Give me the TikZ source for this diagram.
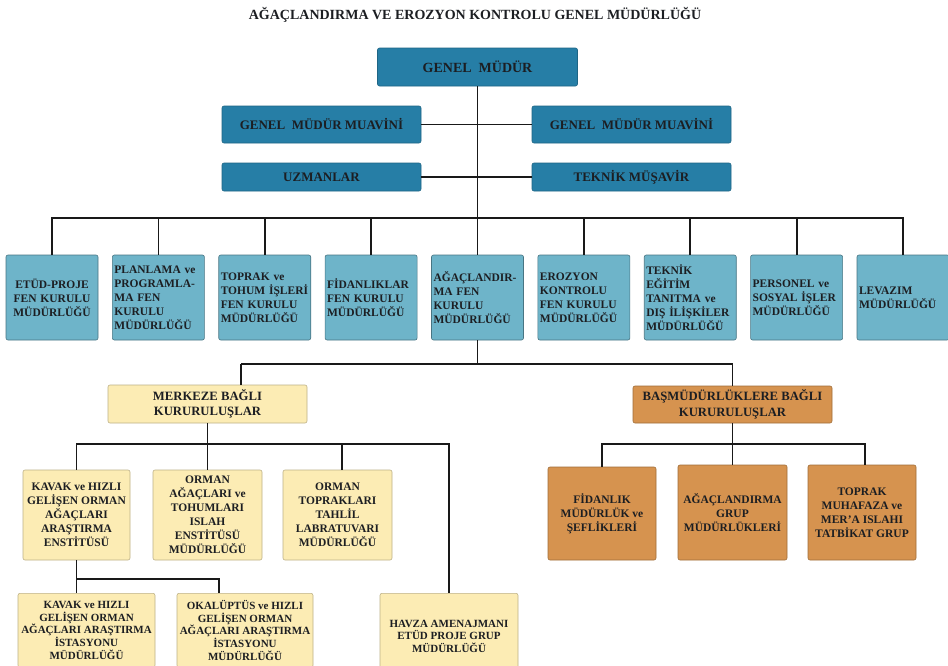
\documentclass[tikz,border=0pt]{standalone}
\usepackage{fontspec}
\setmainfont{Liberation Serif}
\definecolor{topblue}{RGB}{38,126,166}
\definecolor{lblue}{RGB}{110,180,201}
\definecolor{ylw}{RGB}{252,236,180}
\definecolor{org}{RGB}{214,147,79}
\definecolor{txt}{RGB}{28,30,34}
\begin{document}
\begin{tikzpicture}[x=1pt,y=-1pt,
  conn/.style={line width=1.8pt, black!90},
  base/.style={rounded corners=2pt, inner sep=0pt, text=txt, line width=0.6pt,
    font=\bfseries\fontsize{11.5}{14}\selectfont},
  topbox/.style={base, fill=topblue, draw=topblue!80!black, minimum width=199pt,
    font=\bfseries\fontsize{13}{15}\selectfont},
  rowbox/.style={base, fill=lblue, draw=lblue!65!black, minimum height=85pt,
    text width=88pt, inner xsep=2pt, align=left},
  ybox/.style={base, fill=ylw, draw=ylw!75!black, align=center},
  smallbox/.style={ybox, font=\bfseries\fontsize{11}{12.6}\selectfont},
  obox/.style={base, fill=org, draw=org!75!black, align=center},
  groupfont/.style={font=\bfseries\fontsize{12.7}{15.5}\selectfont},
]
\useasboundingbox (0,0) rectangle (948,665);
\clip (0,0) rectangle (948,665);
\fill[white] (0,0) rectangle (948,665);

\node[font=\bfseries\fontsize{14}{16}\selectfont, text=txt] (title) at (475,15)
  {AĞAÇLANDIRMA VE EROZYON KONTROLU GENEL MÜDÜRLÜĞÜ};

% top boxes
\node[topbox, minimum width=200pt, minimum height=38pt, font=\bfseries\fontsize{14}{16}\selectfont] (gm) at (477.5,67) {GENEL\ \ MÜDÜR};
\node[topbox, minimum height=37pt] (gml) at (321.5,124.5) {GENEL\ \ MÜDÜR MUAVİNİ};
\node[topbox, minimum height=37pt] (gmr) at (631.5,124.5) {GENEL\ \ MÜDÜR MUAVİNİ};
\node[topbox, minimum height=28pt] (uz) at (321.5,177) {UZMANLAR};
\node[topbox, minimum height=28pt] (tm) at (631.5,177) {TEKNİK MÜŞAVİR};

% row of directorates
\node[rowbox, align=center] (r1) at (52,297.5) {ETÜD-PROJE\\FEN KURULU\\MÜDÜRLÜĞÜ};
\node[rowbox] (r2) at (158.4,297.5) {PLANLAMA ve\\PROGRAMLA-\\MA FEN\\KURULU\\MÜDÜRLÜĞÜ};
\node[rowbox] (r3) at (264.75,297.5) {TOPRAK ve\\TOHUM İŞLERİ\\FEN KURULU\\MÜDÜRLÜĞÜ};
\node[rowbox] (r4) at (371.1,297.5) {FİDANLIKLAR\\FEN KURULU\\MÜDÜRLÜĞÜ};
\node[rowbox] (r5) at (477.5,297.5) {AĞAÇLANDIR-\\MA FEN\\KURULU\\MÜDÜRLÜĞÜ};
\node[rowbox] (r6) at (583.9,297.5) {EROZYON\\KONTROLU\\FEN KURULU\\MÜDÜRLÜĞÜ};
\node[rowbox] (r7) at (690.25,297.5) {TEKNİK\\EĞİTİM\\TANITMA ve\\DIŞ İLİŞKİLER\\MÜDÜRLÜĞÜ};
\node[rowbox] (r8) at (796.6,297.5) {PERSONEL ve\\SOSYAL İŞLER\\MÜDÜRLÜĞÜ};
\node[rowbox] (r9) at (903,297.5) {LEVAZIM\\MÜDÜRLÜĞÜ};

% second level groups
\node[ybox, groupfont, minimum width=199pt, minimum height=38pt] (mk) at (207.5,404) {MERKEZE BAĞLI\\KURURULUŞLAR};
\node[obox, groupfont, minimum width=199pt, minimum height=37pt] (bs) at (732.5,404.5) {BAŞMÜDÜRLÜKLERE BAĞLI\\KURURULUŞLAR};

% yellow row
\node[ybox, minimum width=107pt, minimum height=90pt] (ya) at (76.5,515) {KAVAK ve HIZLI\\GELİŞEN ORMAN\\AĞAÇLARI\\ARAŞTIRMA\\ENSTİTÜSÜ};
\node[ybox, minimum width=109pt, minimum height=90pt] (yb) at (207.5,515) {ORMAN\\AĞAÇLARI ve\\TOHUMLARI\\ISLAH\\ENSTİTÜSÜ\\MÜDÜRLÜĞÜ};
\node[ybox, minimum width=109pt, minimum height=90pt] (yc) at (337.5,515) {ORMAN\\TOPRAKLARI\\TAHLİL\\LABRATUVARI\\MÜDÜRLÜĞÜ};

% bottom yellow row
\node[smallbox, anchor=north, minimum width=137pt, minimum height=74pt] (yd) at (86.5,593) {KAVAK ve HIZLI\\GELİŞEN ORMAN\\AĞAÇLARI ARAŞTIRMA\\İSTASYONU\\MÜDÜRLÜĞÜ};
\node[smallbox, anchor=north, minimum width=136pt, minimum height=74pt] (ye) at (245,593) {OKALÜPTÜS ve HIZLI\\GELİŞEN ORMAN\\AĞAÇLARI ARAŞTIRMA\\İSTASYONU\\MÜDÜRLÜĞÜ};
\node[smallbox, anchor=north, minimum width=138pt, minimum height=86pt] (hv) at (449,593) {HAVZA AMENAJMANI\\ETÜD PROJE GRUP\\MÜDÜRLÜĞÜ};

% orange row
\node[obox, minimum width=108pt, minimum height=93pt] (f1) at (602,513.5) {FİDANLIK\\MÜDÜRLÜK ve\\ŞEFLİKLERİ};
\node[obox, minimum width=109pt, minimum height=95pt] (f2) at (732.5,512.5) {AĞAÇLANDIRMA\\GRUP\\MÜDÜRLÜKLERİ};
\node[obox, minimum width=108pt, minimum height=95pt] (f3) at (862,512.5) {TOPRAK\\MUHAFAZA ve\\MER’A ISLAHI\\TATBİKAT GRUP};

% connectors
\coordinate (bus) at (477.5,218);
\draw[conn] (gm.south) -- (r5.north);
\draw[conn] (gml.east) -- (gmr.west);
\draw[conn] (uz.east) -- (tm.west);
\draw[conn] (r1.north) |- (r9.north |- bus) -- (r9.north);
\foreach \i in {2,3,4,6,7,8} {\draw[conn] (r\i.north) -- (r\i.north |- bus);}

\coordinate (b2) at (477.5,364);
\coordinate (mkin) at (241,364);
\draw[conn] (r5.south) -- (b2);
\draw[conn] (mkin) -- (mkin |- mk.north);
\draw[conn] (mkin) -- (bs.north |- b2) -- (bs.north);

\coordinate (mb) at (207.5,444);
\coordinate (cd) at (342,444);
\draw[conn] (mk.south) -- (yb.north);
\draw[conn] (ya.north) |- (hv.north |- mb) -- (hv.north);
\draw[conn] (cd) -- (cd |- yc.north);

\coordinate (ab) at (76.5,579);
\coordinate (ae) at (219,593);
\draw[conn] (ya.south) -- (ya.south |- yd.north);
\draw[conn] (ab) -| (ae);

\coordinate (ob) at (732.5,444);
\draw[conn] (bs.south) -- (f2.north);
\draw[conn] (f1.north) |- (ob) -| ([xshift=3pt]f3.north);
\end{tikzpicture}
\end{document}
